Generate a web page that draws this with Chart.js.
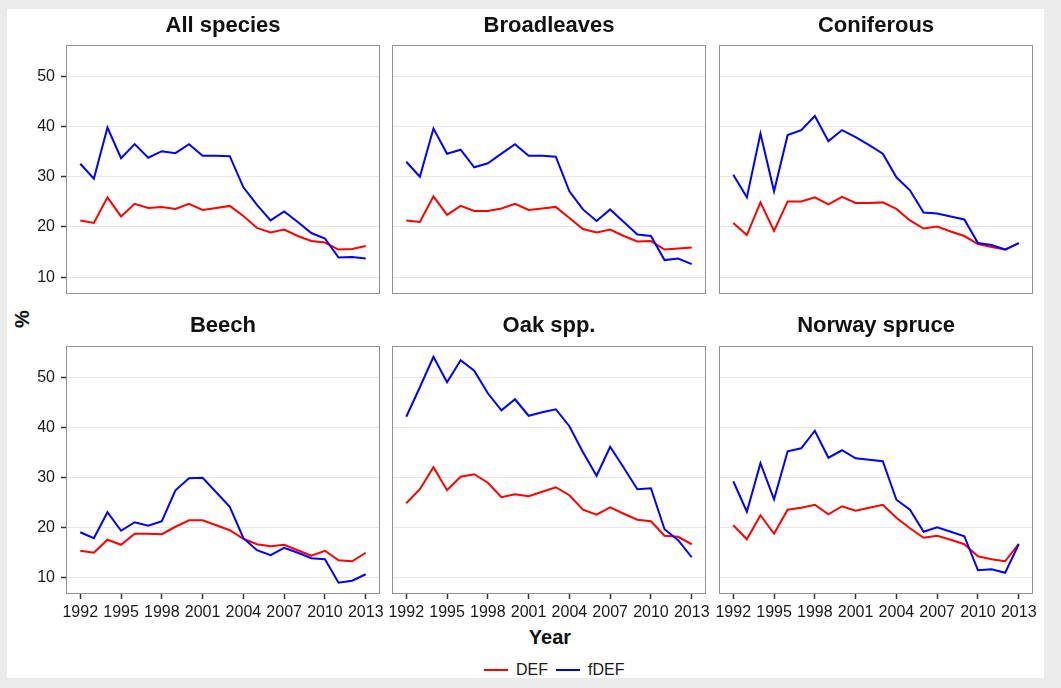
<!DOCTYPE html>
<html>
<head>
<meta charset="utf-8">
<script src="https://cdn.jsdelivr.net/npm/chart.js@4.4.1/dist/chart.umd.min.js"></script>
<style>
  html, body { margin: 0; padding: 0; width: 1061px; height: 688px; overflow: hidden; background: #ebebeb; font-family: "Liberation Sans", Arial, sans-serif; }
  #card { position: absolute; left: 7px; top: 9px; width: 1037px; height: 669px; background: #fff; }
  canvas { position: absolute; }
  .axisTitle { position: absolute; font-weight: bold; color: #111; }
  #legend { position: absolute; left: 484px; top: 660px; display: flex; align-items: center; font-size: 16px; line-height: 19px; color: #1a1a1a; }
  #legend .sw { display: inline-block; width: 24px; height: 2px; margin-right: 8px; }
  #legend .txt { margin-right: 8px; }
</style>
</head>
<body>
<div id="card"></div>
<div class="axisTitle" style="left:21.5px; top:319px; font-size:20px; transform:translate(-50%,-50%) rotate(-90deg);">%</div>
<div class="axisTitle" style="left:450px; top:625px; width:200px; text-align:center; font-size:20px; line-height:24px;">Year</div>
<div id="legend">
  <span class="sw" style="background:#f00"></span><span class="txt">DEF</span>
  <span class="sw" style="background:#00f"></span><span>fDEF</span>
</div>
<script>
const years = [1992, 1993, 1994, 1995, 1996, 1997, 1998, 1999, 2000, 2001, 2002,
               2003, 2004, 2005, 2006, 2007, 2008, 2009, 2010, 2011, 2012, 2013];
const xTickYears = [1992, 1995, 1998, 2001, 2004, 2007, 2010, 2013];
const yTickValues = [10, 20, 30, 40, 50];
const panelTitles = ['All species', 'Broadleaves', 'Coniferous', 'Beech', 'Oak spp.', 'Norway spruce'];

const allDEF = [21.3, 20.8, 25.9, 22.1, 24.6, 23.8, 24.0, 23.6, 24.6, 23.4, 23.8, 24.2, 22.2, 19.8, 18.9, 19.5, 18.2, 17.2, 16.9, 15.5, 15.6, 16.2];
const allFDEF = [32.6, 29.6, 39.8, 33.7, 36.5, 33.8, 35.1, 34.7, 36.5, 34.2, 34.2, 34.1, 27.9, 24.4, 21.3, 23.1, 21.0, 18.8, 17.7, 13.9, 14.0, 13.7];
const broadDEF = [21.3, 21.0, 26.1, 22.4, 24.2, 23.2, 23.2, 23.7, 24.6, 23.4, 23.7, 24.0, 21.8, 19.6, 18.9, 19.5, 18.2, 17.1, 17.2, 15.5, 15.7, 15.9];
const broadFDEF = [33.0, 30.0, 39.6, 34.6, 35.4, 31.9, 32.7, 34.6, 36.5, 34.2, 34.2, 34.0, 27.1, 23.5, 21.2, 23.5, 21.0, 18.5, 18.2, 13.4, 13.7, 12.6];
const conDEF = [20.8, 18.4, 24.9, 19.2, 25.1, 25.1, 25.9, 24.5, 26.0, 24.8, 24.8, 24.9, 23.6, 21.3, 19.7, 20.1, 19.1, 18.2, 16.6, 16.0, 15.5, 16.8];
const conFDEF = [30.4, 25.9, 38.6, 27.1, 38.3, 39.3, 42.1, 37.1, 39.3, 37.9, 36.3, 34.6, 29.9, 27.3, 22.9, 22.7, 22.1, 21.5, 16.8, 16.4, 15.5, 16.8];
const beechDEF = [15.3, 14.9, 17.5, 16.5, 18.7, 18.7, 18.6, 20.1, 21.4, 21.4, 20.4, 19.4, 17.7, 16.6, 16.2, 16.5, 15.4, 14.3, 15.3, 13.4, 13.2, 14.9];
const beechFDEF = [19.0, 17.8, 23.0, 19.3, 21.0, 20.3, 21.2, 27.4, 29.8, 29.9, 27.0, 24.1, 17.8, 15.4, 14.4, 15.9, 14.9, 13.8, 13.6, 8.9, 9.3, 10.6];
const oakDEF = [24.8, 27.6, 32.0, 27.4, 30.1, 30.6, 28.9, 26.0, 26.6, 26.2, 27.1, 28.0, 26.4, 23.5, 22.5, 24.0, 22.7, 21.5, 21.2, 18.3, 18.1, 16.6];
const oakFDEF = [42.1, 48.0, 54.1, 49.0, 53.4, 51.3, 46.8, 43.4, 45.6, 42.3, 43.0, 43.6, 40.2, 35.0, 30.3, 36.1, 31.9, 27.6, 27.8, 19.6, 17.4, 14.0];
const spruceDEF = [20.4, 17.6, 22.4, 18.7, 23.5, 23.9, 24.5, 22.6, 24.2, 23.3, 23.9, 24.5, 21.9, 19.8, 17.9, 18.3, 17.5, 16.6, 14.2, 13.6, 13.2, 16.7];
const spruceFDEF = [29.2, 23.1, 32.8, 25.6, 35.2, 35.8, 39.3, 33.9, 35.4, 33.8, 33.5, 33.2, 25.5, 23.5, 19.1, 20.0, 19.1, 18.2, 11.4, 11.6, 10.9, 16.6];

const defSeries = [allDEF, broadDEF, conDEF, beechDEF, oakDEF, spruceDEF];
const fdefSeries = [allFDEF, broadFDEF, conFDEF, beechFDEF, oakFDEF, spruceFDEF];

// layout of the facet grid (page pixels)
const FONT = '"Liberation Sans", Arial, sans-serif';
const colLeft = [66, 392, 719];
const plotW = 314;
const side = 60;
const rows = [
    { top: 0, titleH: 45, plotH: 249, bottom: 20 },
    { top: 300, titleH: 46, plotH: 248, bottom: 30 }
];

const panelBorder = {
    id: 'panelBorder',
    afterDatasetsDraw(chart) {
        const a = chart.chartArea, c = chart.ctx;
        c.save();
        c.strokeStyle = '#929292';
        c.lineWidth = 1;
        c.strokeRect(Math.round(a.left) + 0.5, Math.round(a.top) + 0.5,
                     Math.round(a.right - a.left) - 1, Math.round(a.bottom - a.top) - 1);
        c.restore();
    }
};

const toPoints = vals => years.map((yr, i) => ({ x: yr, y: vals[i] }));

panelTitles.forEach((title, i) => {
    const row = rows[Math.floor(i / 3)];
    const col = i % 3;
    const isLeft = col === 0;
    const isBottom = i >= 3;

    const canvas = document.createElement('canvas');
    canvas.width = side + plotW + side;
    canvas.height = row.titleH + row.plotH + row.bottom;
    canvas.style.left = (colLeft[col] - side) + 'px';
    canvas.style.top = row.top + 'px';
    document.body.appendChild(canvas);

    // tick labels are clipped to their scale box, so the axes that show labels
    // take the margin themselves instead of the layout padding
    new Chart(canvas, {
        type: 'line',
        data: {
            datasets: [
                { label: 'DEF', data: toPoints(defSeries[i]), borderColor: '#f00', order: 1 },
                { label: 'fDEF', data: toPoints(fdefSeries[i]), borderColor: '#00f', order: 0 }
            ]
        },
        options: {
            responsive: false,
            animation: false,
            elements: {
                line: { borderWidth: 2, tension: 0, fill: false },
                point: { radius: 0 }
            },
            layout: { padding: { left: isLeft ? 0 : side, right: side, top: 0, bottom: isBottom ? 0 : row.bottom } },
            plugins: {
                legend: { display: false },
                tooltip: { enabled: false },
                title: {
                    display: true,
                    fullSize: false,
                    text: title,
                    color: '#111',
                    font: { family: FONT, size: 22, weight: 'bold' },
                    padding: { top: 13, bottom: row.titleH - 13 - 26.4 }
                }
            },
            scales: {
                x: {
                    type: 'linear',
                    min: 1990.95,
                    max: 2014.05,
                    afterBuildTicks: s => { s.ticks = xTickYears.map(v => ({ value: v })); },
                    afterFit: s => { s.height = isBottom ? row.bottom : 0; },
                    border: { display: false },
                    grid: { drawOnChartArea: false, drawTicks: isBottom, tickLength: 5, tickColor: '#333', tickWidth: 1.5 },
                    ticks: {
                        display: isBottom, padding: 4, color: '#1a1a1a', autoSkip: false, maxRotation: 0,
                        font: { family: FONT, size: 16 },
                        callback: v => String(v)
                    }
                },
                y: {
                    min: 6.65,
                    max: 56.25,
                    afterBuildTicks: s => { s.ticks = yTickValues.map(v => ({ value: v })); },
                    afterFit: s => { s.width = isLeft ? side : 0; },
                    border: { display: false },
                    grid: { color: '#e6e6e6', lineWidth: 1, drawTicks: isLeft, tickLength: 5, tickColor: '#333', tickWidth: 1.5 },
                    ticks: {
                        display: isLeft, padding: 6, color: '#1a1a1a',
                        font: { family: FONT, size: 16 },
                        callback: v => String(v)
                    }
                }
            }
        },
        plugins: [panelBorder]
    });
});
</script>
</body>
</html>
